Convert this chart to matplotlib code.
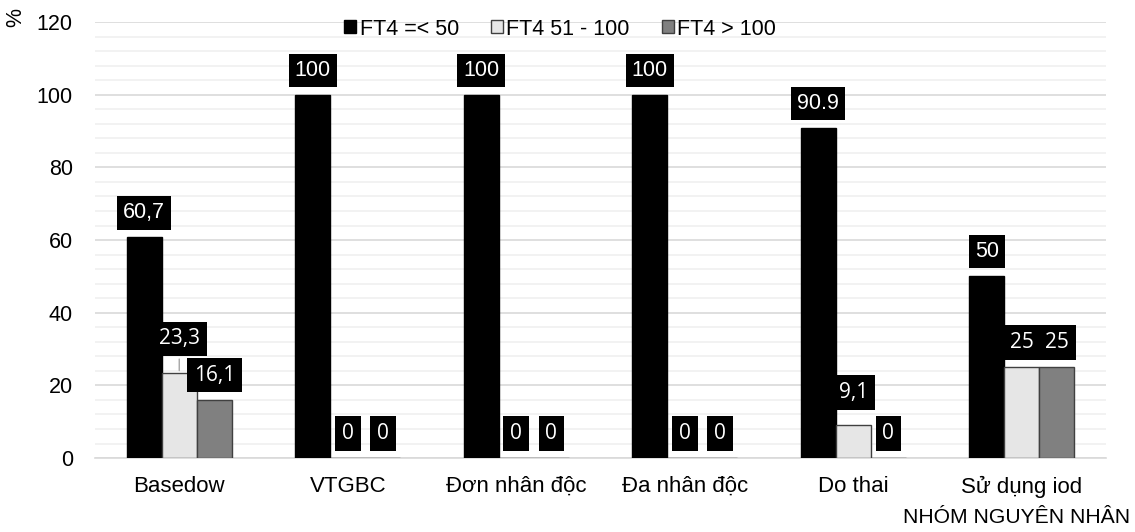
import numpy as np
import matplotlib.pyplot as plt
from matplotlib.patches import Patch
from matplotlib.ticker import MultipleLocator

plt.rcParams['font.family'] = ['Liberation Sans', 'DejaVu Sans']

categories = ['Basedow', 'VTGBC', 'Đơn nhân độc', 'Đa nhân độc', 'Do thai', 'Sử dụng iod']
series_names = ['FT4 =< 50', 'FT4 51 - 100', 'FT4 > 100']
ft4_low = [60.7, 100, 100, 100, 90.9, 50]
ft4_mid = [23.3, 0, 0, 0, 9.1, 25]
ft4_high = [16.1, 0, 0, 0, 0, 25]
low_labels = ['60,7', '100', '100', '100', '90.9', '50']
mid_labels = ['23,3', '0', '0', '0', '9,1', '25']
high_labels = ['16,1', '0', '0', '0', '0', '25']

colors = ['#000000', '#e6e6e6', '#808080']
edges = ['#000000', '#404040', '#404040']

fig = plt.figure(figsize=(11.35, 5.32), dpi=100)
ax = fig.add_axes([0.0837, 0.139, 0.8908, 0.8196])

x = np.arange(len(categories))
w = 0.208
values = [ft4_low, ft4_mid, ft4_high]
labels = [low_labels, mid_labels, high_labels]
fonts = [['Liberation Sans'], ['Open Sans'], ['Open Sans']]
sizes = [15.5, 15, 15]
pads = [0.28, 0.33, 0.33]

# a couple of labels sit higher than the rest
extra_lift = {(1, 0): 10, (1, 4): 8}

for s in range(3):
    xs = x + (s - 1) * w
    ax.bar(xs, values[s], width=w, color=colors[s], edgecolor=edges[s],
           linewidth=1.0, zorder=3)
    for i, (xi, v) in enumerate(zip(xs, values[s])):
        lift = 14 + extra_lift.get((s, i), 0)
        arrow = None
        if (s, i) == (1, 0):
            arrow = dict(arrowstyle='-', color='#a6a6a6', lw=1)
        ax.annotate(labels[s][i], (xi, v), xytext=(0, lift),
                    textcoords='offset pixels', ha='center', va='bottom',
                    color='white', fontsize=sizes[s], family=fonts[s],
                    bbox=dict(boxstyle='square,pad=%.2f' % pads[s], fc='black', ec='none'),
                    arrowprops=arrow, zorder=5)

ax.set_xlim(-0.5, len(categories) - 0.5)
ax.set_ylim(0, 120)
ax.yaxis.set_major_locator(MultipleLocator(20))
ax.yaxis.set_minor_locator(MultipleLocator(4))
ax.grid(which='major', axis='y', color='#d9d9d9', lw=1.2, zorder=0)
ax.grid(which='minor', axis='y', color='#f0f0f0', lw=1.2, zorder=0)
ax.set_axisbelow(True)
for side in ['top', 'right', 'left']:
    ax.spines[side].set_visible(False)
ax.spines['bottom'].set_color('#d9d9d9')
ax.spines['bottom'].set_linewidth(1.2)
ax.tick_params(axis='both', which='both', length=0, colors='black')
ax.tick_params(axis='y', labelsize=15.5, pad=16)
ax.tick_params(axis='x', labelsize=16, pad=13)
ax.set_xticks(x)
ax.set_xticklabels(categories)

handles = [Patch(facecolor=colors[s], edgecolor=edges[s], label=series_names[s])
           for s in range(3)]
ax.legend(handles=handles, loc='center', bbox_to_anchor=(0.46, 0.984), ncol=3,
          frameon=False, fontsize=15.5, handlelength=0.55, handleheight=0.55,
          handletextpad=0.15, columnspacing=1.5)

fig.text(0.014, 0.968, '%', rotation=90, fontsize=15.5, ha='center', va='center')
fig.text(0.996, 0.028, 'NHÓM NGUYÊN NHÂN', fontsize=15.2, ha='right', va='center')

fig.savefig('out.png', dpi=100)
